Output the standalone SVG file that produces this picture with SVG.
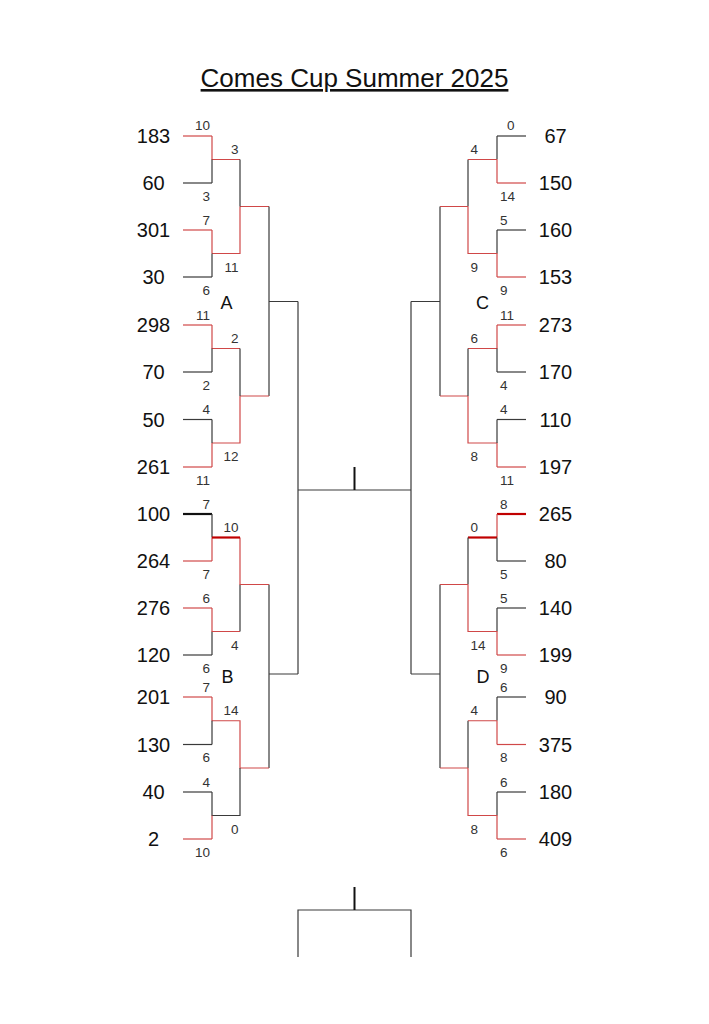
<svg xmlns="http://www.w3.org/2000/svg" width="709" height="1024" viewBox="0 0 709 1024">
<style>
.k{stroke:#3a3a3a;stroke-width:1.2;fill:none}
.kt{stroke:#111;stroke-width:2.2;fill:none}
.r{stroke:#d04848;stroke-width:1.2;fill:none}
.rt{stroke:#c00000;stroke-width:2.2;fill:none}
.tick{stroke:#111;stroke-width:2;fill:none}
text{font-family:"Liberation Sans",Arial,sans-serif}
.nm{font-size:20px;fill:#111;text-anchor:middle}
.sc{font-size:13.5px;fill:#333}
.e{text-anchor:end}
.s{text-anchor:start}
.grp{font-size:18px;fill:#111;text-anchor:middle}
.title{font-size:26px;fill:#111;text-anchor:middle;text-decoration:underline}
</style>
<rect width="709" height="1024" fill="#fff"/>
<text id="title" class="title" x="354.5" y="87">Comes Cup Summer 2025</text>

<!-- Left teams -->
<g id="t183"><path class="r" d="M183 136H212"/><text class="nm" x="153.5" y="143">183</text></g>
<g id="t60"><path class="k" d="M183 183H212"/><text class="nm" x="153.5" y="190">60</text></g>
<g id="t301"><path class="r" d="M183 230H212"/><text class="nm" x="153.5" y="237">301</text></g>
<g id="t30"><path class="k" d="M183 277H212"/><text class="nm" x="153.5" y="284">30</text></g>
<g id="t298"><path class="r" d="M183 325H212"/><text class="nm" x="153.5" y="332">298</text></g>
<g id="t70"><path class="k" d="M183 372H212"/><text class="nm" x="153.5" y="379">70</text></g>
<g id="t50"><path class="k" d="M183 419.5H212"/><text class="nm" x="153.5" y="426.5">50</text></g>
<g id="t261"><path class="r" d="M183 467H212"/><text class="nm" x="153.5" y="474">261</text></g>
<g id="t100"><path class="kt" d="M183 514H212"/><text class="nm" x="153.5" y="521">100</text></g>
<g id="t264"><path class="r" d="M183 561H212"/><text class="nm" x="153.5" y="568">264</text></g>
<g id="t276"><path class="r" d="M183 608H212"/><text class="nm" x="153.5" y="615">276</text></g>
<g id="t120"><path class="k" d="M183 655H212"/><text class="nm" x="153.5" y="662">120</text></g>
<g id="t201"><path class="r" d="M183 697H212"/><text class="nm" x="153.5" y="704">201</text></g>
<g id="t130"><path class="k" d="M183 744.5H212"/><text class="nm" x="153.5" y="751.5">130</text></g>
<g id="t40"><path class="k" d="M183 792H212"/><text class="nm" x="153.5" y="799">40</text></g>
<g id="t2"><path class="r" d="M183 839H212"/><text class="nm" x="153.5" y="846">2</text></g>

<!-- Right teams -->
<g id="t67"><path class="k" d="M497 136H526"/><text class="nm" x="555.5" y="143">67</text></g>
<g id="t150"><path class="r" d="M497 183H526"/><text class="nm" x="555.5" y="190">150</text></g>
<g id="t160"><path class="k" d="M497 230H526"/><text class="nm" x="555.5" y="237">160</text></g>
<g id="t153"><path class="r" d="M497 277H526"/><text class="nm" x="555.5" y="284">153</text></g>
<g id="t273"><path class="r" d="M497 325H526"/><text class="nm" x="555.5" y="332">273</text></g>
<g id="t170"><path class="k" d="M497 372H526"/><text class="nm" x="555.5" y="379">170</text></g>
<g id="t110"><path class="k" d="M497 419.5H526"/><text class="nm" x="555.5" y="426.5">110</text></g>
<g id="t197"><path class="r" d="M497 467H526"/><text class="nm" x="555.5" y="474">197</text></g>
<g id="t265"><path class="rt" d="M497 514H526"/><text class="nm" x="555.5" y="521">265</text></g>
<g id="t80"><path class="k" d="M497 561H526"/><text class="nm" x="555.5" y="568">80</text></g>
<g id="t140"><path class="k" d="M497 608H526"/><text class="nm" x="555.5" y="615">140</text></g>
<g id="t199"><path class="r" d="M497 655H526"/><text class="nm" x="555.5" y="662">199</text></g>
<g id="t90"><path class="k" d="M497 697H526"/><text class="nm" x="555.5" y="704">90</text></g>
<g id="t375"><path class="r" d="M497 744.5H526"/><text class="nm" x="555.5" y="751.5">375</text></g>
<g id="t180"><path class="k" d="M497 792H526"/><text class="nm" x="555.5" y="799">180</text></g>
<g id="t409"><path class="r" d="M497 839H526"/><text class="nm" x="555.5" y="846">409</text></g>

<!-- Group labels -->
<g id="groupA"><text class="grp" x="226.5" y="309">A</text></g>
<g id="groupB"><text class="grp" x="227.5" y="683">B</text></g>
<g id="groupC"><text class="grp" x="482.5" y="309">C</text></g>
<g id="groupD"><text class="grp" x="483" y="683">D</text></g>

<g id="connectors">
<!-- Left A -->
<path class="r" d="M212 136V159.5H240M240 206.5V253.5H212M212 253.5V230M240 206.5H269"/>
<path class="k" d="M212 159.5V183M240 159.5V206.5M212 253.5V277M269 206.5V396M269 301.5H298"/>
<path class="r" d="M212 325V348.5H240M240 396V443H212M212 443V467M240 396H269"/>
<path class="k" d="M212 348.5V372M240 348.5V396M212 419.5V443"/>
<!-- Left B -->
<path class="k" d="M212 514V537.5M240 584.5V631.5M212 631.5V655M269 584.5V768M269 674H298"/>
<path class="r" d="M212 537.5V561M240 537.5V584.5H269M240 631.5H212V608"/>
<path class="rt" d="M212 537.5H240"/>
<path class="r" d="M212 697V720.75H240V768H269"/>
<path class="k" d="M212 720.75V744.5M240 768V815.5H212V792"/>
<path class="r" d="M212 815.5V839"/>
<!-- Center -->
<path class="k" d="M298 301.5V674M298 490H411M411 301.5V674M411 301.5H440M411 674H440"/>
<path class="tick" d="M354.5 467V490"/>
<!-- Right C -->
<path class="k" d="M497 136V159.5M468 159.5V206.5M497 230V253.5M440 206.5V396"/>
<path class="r" d="M497 159.5V183M497 159.5H468M468 206.5V253.5H497V277M468 206.5H440"/>
<path class="r" d="M497 325V348.5H468M468 396V443H497V467M468 396H440"/>
<path class="k" d="M497 348.5V372M468 348.5V396M497 419.5V443"/>
<!-- Right D -->
<path class="r" d="M497 514V537.5"/>
<path class="rt" d="M497 537.5H468"/>
<path class="k" d="M497 537.5V561M468 537.5V584.5M497 608V631.5M440 584.5V768"/>
<path class="r" d="M468 584.5V631.5H497V655M468 584.5H440"/>
<path class="k" d="M497 697V720.75M468 720.75V768M497 792V815.5"/>
<path class="r" d="M497 720.75V744.5M497 720.75H468M468 768V815.5H497V839M468 768H440"/>
<!-- Bottom -->
<path class="k" d="M298 957V910H411V957"/>
<path class="tick" d="M354.5 887V910"/>
</g>

<g id="scores">
<!-- Left round 1 -->
<text class="sc e" x="210" y="130">10</text>
<text class="sc e" x="210" y="200.5">3</text>
<text class="sc e" x="210" y="224.5">7</text>
<text class="sc e" x="210" y="294.5">6</text>
<text class="sc e" x="210" y="319.5">11</text>
<text class="sc e" x="210" y="389.5">2</text>
<text class="sc e" x="210" y="414">4</text>
<text class="sc e" x="210" y="484.5">11</text>
<text class="sc e" x="210" y="508.5">7</text>
<text class="sc e" x="210" y="578.5">7</text>
<text class="sc e" x="210" y="602.5">6</text>
<text class="sc e" x="210" y="672.5">6</text>
<text class="sc e" x="210" y="691.5">7</text>
<text class="sc e" x="210" y="762">6</text>
<text class="sc e" x="210" y="786.5">4</text>
<text class="sc e" x="210" y="856.5">10</text>
<!-- Left round 2 -->
<text class="sc e" x="238.5" y="153.5">3</text>
<text class="sc e" x="238.5" y="271.5">11</text>
<text class="sc e" x="238.5" y="342.5">2</text>
<text class="sc e" x="238.5" y="461">12</text>
<text class="sc e" x="238.5" y="531.5">10</text>
<text class="sc e" x="238.5" y="649.5">4</text>
<text class="sc e" x="238.5" y="714.5">14</text>
<text class="sc e" x="238.5" y="833.5">0</text>
<!-- Right round 1 -->
<text class="sc s" x="507" y="130">0</text>
<text class="sc s" x="500" y="200.5">14</text>
<text class="sc s" x="500" y="224.5">5</text>
<text class="sc s" x="500" y="294.5">9</text>
<text class="sc s" x="500" y="319.5">11</text>
<text class="sc s" x="500" y="389.5">4</text>
<text class="sc s" x="500" y="414">4</text>
<text class="sc s" x="500" y="484.5">11</text>
<text class="sc s" x="500" y="508.5">8</text>
<text class="sc s" x="500" y="578.5">5</text>
<text class="sc s" x="500" y="602.5">5</text>
<text class="sc s" x="500" y="672.5">9</text>
<text class="sc s" x="500" y="691.5">6</text>
<text class="sc s" x="500" y="762">8</text>
<text class="sc s" x="500" y="786.5">6</text>
<text class="sc s" x="500" y="856.5">6</text>
<!-- Right round 2 -->
<text class="sc s" x="470.5" y="153.5">4</text>
<text class="sc s" x="470.5" y="271.5">9</text>
<text class="sc s" x="470.5" y="342.5">6</text>
<text class="sc s" x="470.5" y="461">8</text>
<text class="sc s" x="470.5" y="531.5">0</text>
<text class="sc s" x="470.5" y="649.5">14</text>
<text class="sc s" x="470.5" y="714.5">4</text>
<text class="sc s" x="470.5" y="833.5">8</text>
</g>
</svg>
